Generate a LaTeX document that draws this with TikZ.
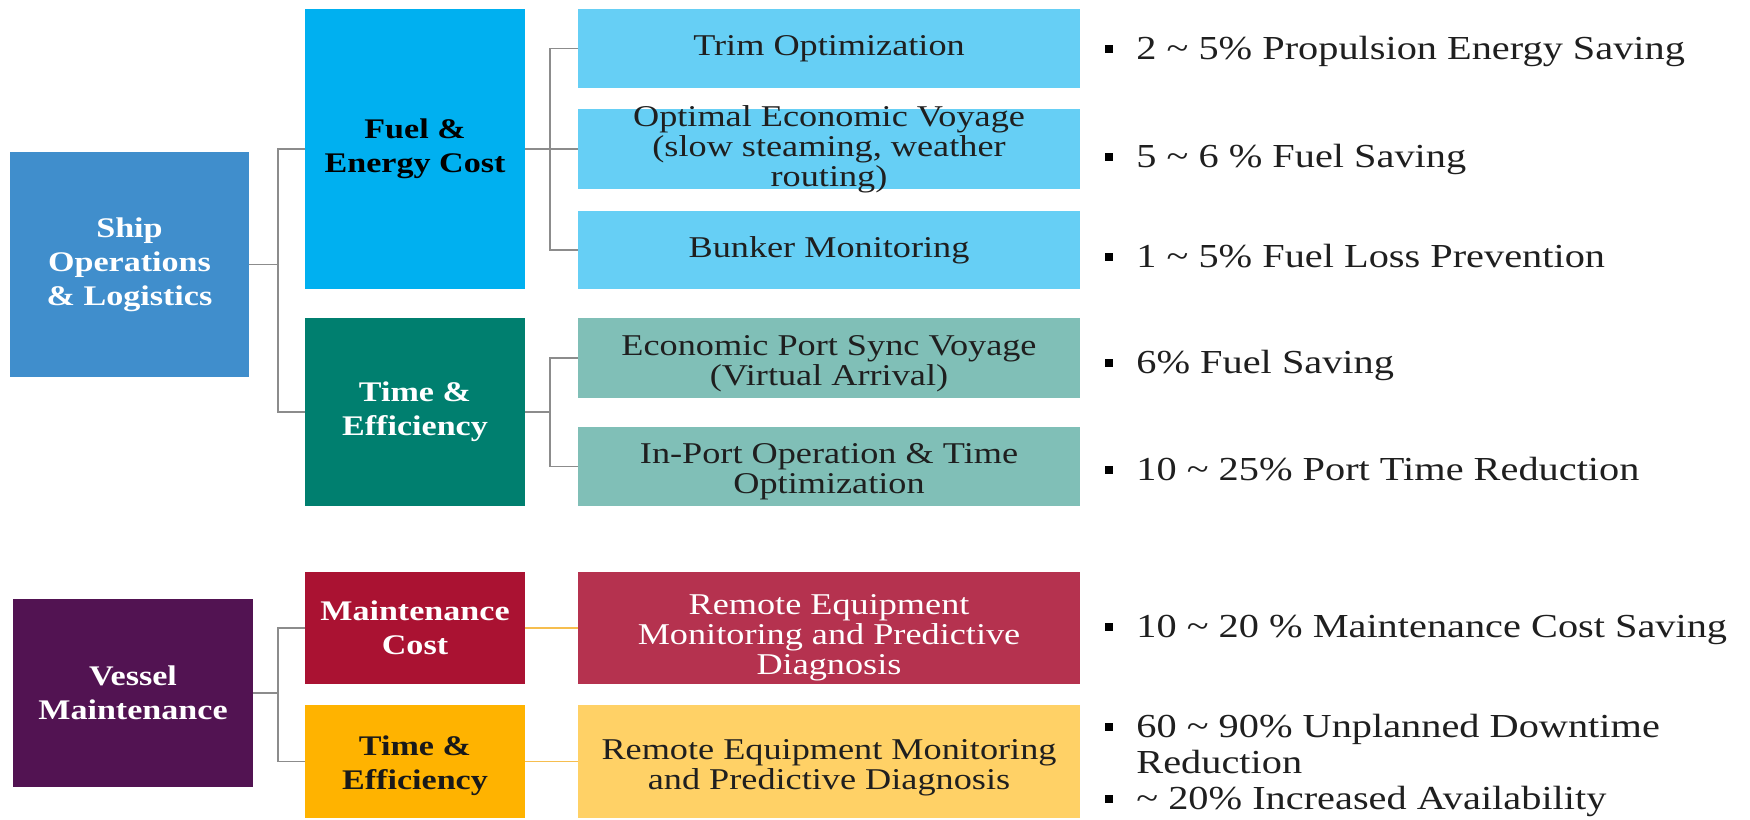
\documentclass[tikz,border=0pt]{standalone}
\usepackage{fontspec}
\setmainfont{Liberation Serif}[FakeStretch=1.2]
\definecolor{shipblue}{HTML}{408ECC}
\definecolor{fuelblue}{HTML}{00B0F0}
\definecolor{lightblue}{HTML}{66CFF5}
\definecolor{tealA}{HTML}{007F6F}
\definecolor{tealB}{HTML}{80BFB7}
\definecolor{purpleA}{HTML}{521352}
\definecolor{crimsonA}{HTML}{AA1232}
\definecolor{roseA}{HTML}{B5324F}
\definecolor{amberA}{HTML}{FFB300}
\definecolor{amberB}{HTML}{FFD166}
\definecolor{conngray}{HTML}{8C8C8C}
\definecolor{connorange}{HTML}{F6BE4F}
\begin{document}
\begin{tikzpicture}[x=0.5pt,y=-0.5pt,
  fillbox/.style={rectangle, inner sep=0pt, draw=none},
  headbox/.style={fillbox, minimum width=110pt},
  leafbox/.style={fillbox, minimum width=251pt},
  headtxt/.style={inner sep=0pt, align=center, font=\fontsize{14.2pt}{17pt}\selectfont\bfseries},
  leaftxt/.style={inner sep=0pt, align=center, font=\fontsize{15.1pt}{15pt}\selectfont, text=black!88},
  restxt/.style={anchor=base west, inner sep=0pt, align=left, font=\fontsize{16.8pt}{18pt}\selectfont, text=black!88},
  bul/.style={rectangle, fill=black, minimum size=4.3pt, inner sep=0pt},
  conn/.style={draw=conngray, line width=0.8pt},
  connY/.style={draw=connorange, line width=0.8pt}]
\useasboundingbox (0,0) rectangle (1750,819);

% level 1
\node[fillbox, fill=shipblue, minimum width=119.5pt, minimum height=112.5pt] (ship) at (129.5,264.5) {};
\node[headtxt, text=white] (shipT) at (ship.center) {Ship\\Operations\\\& Logistics};
\node[fillbox, fill=purpleA, minimum width=120pt, minimum height=94pt] (vessel) at (133,693) {};
\node[headtxt, text=white] (vesselT) at (vessel.center) {Vessel\\Maintenance};

% level 2
\node[headbox, fill=fuelblue, minimum height=140pt] (fuel) at (415,149) {};
\node[headtxt, text=black] (fuelT) at (fuel.center) {Fuel \&\\Energy Cost};
\node[headbox, fill=tealA, minimum height=94pt] (teal) at (415,412) {};
\node[headtxt, text=white] (tealT) at (teal.center) {Time \&\\Efficiency};
\node[headbox, fill=crimsonA, minimum height=56pt] (maint) at (415,628) {};
\node[headtxt, text=white] (maintT) at (maint.center) {Maintenance\\Cost};
\node[headbox, fill=amberA, minimum height=56.5pt] (ytime) at (415,761.5) {};
\node[headtxt, text=black!90] (ytimeT) at (415,766) {Time \&\\Efficiency};

% level 3
\node[leafbox, fill=lightblue, minimum height=39.5pt] (trim) at (829,48.5) {};
\node[leaftxt] (trimT) at (trim.center) {Trim Optimization};
\node[leafbox, fill=lightblue, minimum height=40pt] (opt) at (829,149) {};
\node[leaftxt] (optT) at (opt.center) {Optimal Economic Voyage\\(slow steaming, weather\\routing)};
\node[leafbox, fill=lightblue, minimum height=39pt] (bunk) at (829,250) {};
\node[leaftxt] (bunkT) at (bunk.center) {Bunker Monitoring};
\node[leafbox, fill=tealB, minimum height=40pt] (sync) at (829,358) {};
\node[leaftxt] (syncT) at (829,364) {Economic Port Sync Voyage\\(Virtual Arrival)};
\node[leafbox, fill=tealB, minimum height=39.5pt] (inport) at (829,466.5) {};
\node[leaftxt] (inportT) at (829,472) {In-Port Operation \& Time\\Optimization};
\node[leafbox, fill=roseA, minimum height=56pt] (red) at (829,628) {};
\node[leaftxt, text=white] (redT) at (829,638) {Remote Equipment\\Monitoring and Predictive\\Diagnosis};
\node[leafbox, fill=amberB, minimum height=56.5pt] (yel) at (829,761.5) {};
\node[leaftxt] (yelT) at (829,768) {Remote Equipment Monitoring\\and Predictive Diagnosis};

% connectors
\coordinate (j1) at (278,264.5);
\draw[conn] (ship.east) -- (j1);
\draw[conn] (fuel.west) -| (j1) |- (teal.west);
\coordinate (j2) at (550,149);
\draw[conn] (fuel.east) -- (opt.west);
\draw[conn] (trim.west) -| (j2) |- (bunk.west);
\coordinate (j3) at (550,412);
\draw[conn] (teal.east) -- (j3);
\draw[conn] (sync.west) -| (j3) |- (inport.west);
\coordinate (j4) at (278,693);
\draw[conn] (vessel.east) -- (j4);
\draw[conn] (maint.west) -| (j4) |- (ytime.west);
\draw[connY] (maint.east) -- (red.west);
\draw[connY] (ytime.east) -- (yel.west);

% results
\node[bul] (b1) at (1109,49) {};
\node[restxt] (r1) at (1136,59) {2 \textasciitilde{} 5\% Propulsion Energy Saving};
\node[bul] (b2) at (1109,157) {};
\node[restxt] (r2) at (1136,167) {5 \textasciitilde{} 6 \% Fuel Saving};
\node[bul] (b3) at (1109,257) {};
\node[restxt] (r3) at (1136,267) {1 \textasciitilde{} 5\% Fuel Loss Prevention};
\node[bul] (b4) at (1109,363) {};
\node[restxt] (r4) at (1136,373) {6\% Fuel Saving};
\node[bul] (b5) at (1109,470) {};
\node[restxt] (r5) at (1136,480) {10 \textasciitilde{} 25\% Port Time Reduction};
\node[bul] (b6) at (1109,627) {};
\node[restxt] (r6) at (1136,637) {10 \textasciitilde{} 20 \% Maintenance Cost Saving};
\node[bul] (b7) at (1109,727) {};
\node[restxt] (r7) at (1136,737) {60 \textasciitilde{} 90\% Unplanned Downtime};
\node[restxt] (r7b) at (1136,773) {Reduction};
\node[bul] (b8) at (1109,799) {};
\node[restxt] (r8) at (1136,809) {\textasciitilde{} 20\% Increased Availability};
\end{tikzpicture}
\end{document}
